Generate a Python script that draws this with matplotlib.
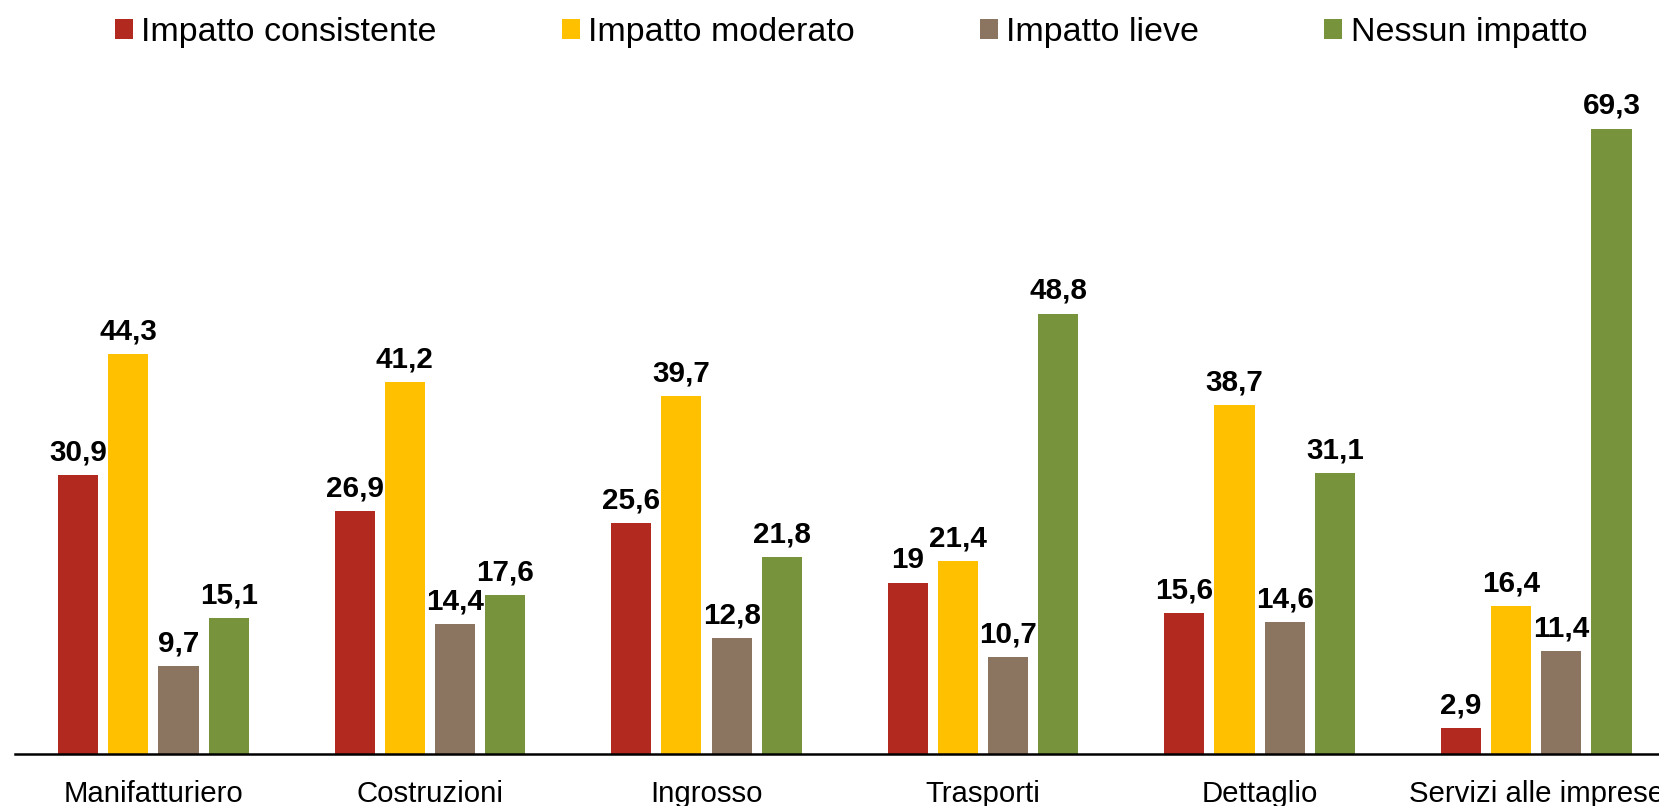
import matplotlib
matplotlib.use("Agg")
import matplotlib.pyplot as plt
import numpy as np

categories = ["Manifatturiero", "Costruzioni", "Ingrosso", "Trasporti", "Dettaglio", "Servizi alle imprese"]
series_names = ["Impatto consistente", "Impatto moderato", "Impatto lieve", "Nessun impatto"]
consistente = [30.9, 26.9, 25.6, 19, 15.6, 2.9]
moderato = [44.3, 41.2, 39.7, 21.4, 38.7, 16.4]
lieve = [9.7, 14.4, 12.8, 10.7, 14.6, 11.4]
nessuno = [15.1, 17.6, 21.8, 48.8, 31.1, 69.3]
colors = ["#B22A1F", "#FFC000", "#8B7560", "#77933C"]

plt.rcParams['font.family'] = ['Liberation Sans', 'DejaVu Sans']

W, H = 1659, 806
fig = plt.figure(figsize=(W / 100, H / 100), dpi=100)
ax = fig.add_axes([14.8 / W, 1 - 754 / H, 1 - 14.8 / W, 75 * 9.025 / H])

x = np.arange(len(categories))
step = 0.1816
width = 0.145
all_series = [consistente, moderato, lieve, nessuno]
for k, (vals, name, c) in enumerate(zip(all_series, series_names, colors)):
    pos = x + (k - 1.5) * step
    ax.bar(pos, vals, width=width, color=c, label=name, zorder=2)
    for xp, v in zip(pos, vals):
        ax.annotate(f"{v:g}".replace('.', ','), (xp, v), xytext=(0, 10.5),
                    textcoords='offset points', ha='center', va='baseline',
                    fontsize=21.3, fontweight='bold', color='black')

ax.set_xlim(-0.501, 5.444)
ax.set_ylim(0, 75)
ax.set_xticks(x)
ax.set_xticklabels(categories, fontsize=21.2)
ax.tick_params(axis='x', length=0, pad=18.5)
ax.set_yticks([])
for s in ['top', 'right', 'left']:
    ax.spines[s].set_visible(False)
ax.spines['bottom'].set_linewidth(1.8)
ax.spines['bottom'].set_color('black')
ax.spines['bottom'].set_zorder(3)

handles, labels = ax.get_legend_handles_labels()
fig.legend(handles, labels, loc='center', bbox_to_anchor=(851 / W, 1 - 33 / H),
           ncol=4, frameon=False, fontsize=24.5, handlelength=0.53, handleheight=0.53,
           handletextpad=0.25, columnspacing=3.67, borderpad=0, borderaxespad=0)

fig.savefig("out.png", dpi=100)
